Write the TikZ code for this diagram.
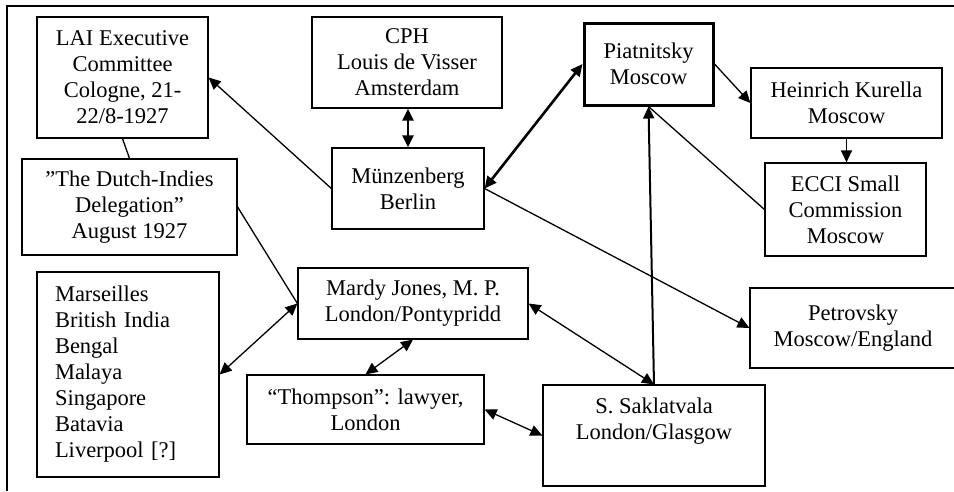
\documentclass[tikz,border=0pt]{standalone}
\usepackage{fontspec}
\setmainfont{Liberation Serif}
\usetikzlibrary{arrows.meta}
\begin{document}
\begin{tikzpicture}[x=1pt,y=-1pt,
  box/.style={draw,line width=1.2pt,align=center,inner sep=2pt,
    font=\fontsize{22.5}{26}\selectfont},
  thickbox/.style={box,line width=3pt},
  conn/.style={line width=1.3pt},
  tip/.style={-{Triangle[length=12pt,width=11pt]}},
  both/.style={{Triangle[length=12pt,width=11pt]}-{Triangle[length=12pt,width=11pt]}},
  heavy/.style={line width=2.6pt},
  medium/.style={line width=2pt}]
\useasboundingbox (0,0) rectangle (954,491);
% frame
\draw[line width=2pt] (7,491) -- (7,6) -- (954,6);
% nodes
\node[box,minimum width=171pt,minimum height=121pt] (lai) at (122.5,77.5)
  {LAI Executive\\Committee\\Cologne, 21-\\22/8-1927};
\node[box,minimum width=215pt,minimum height=96pt] (dutch) at (129.5,207)
  {”The Dutch-Indies\\Delegation”\\August 1927};
\node[box,minimum width=182pt,minimum height=205pt,align=left,text width=146pt,inner xsep=18pt] (mars) at (128,374.5)
  {Marseilles\\British India\\Bengal\\Malaya\\Singapore\\Batavia\\Liverpool [?]};
\node[box,minimum width=190pt,minimum height=91pt] (cph) at (407,62.5)
  {CPH\\Louis de Visser\\Amsterdam};
\node[box,minimum width=152pt,minimum height=81pt] (munz) at (408,188.5)
  {Münzenberg\\Berlin};
\node[thickbox,minimum width=129pt,minimum height=82pt] (piat) at (648.5,64)
  {Piatnitsky\\Moscow};
\node[box,minimum width=191pt,minimum height=70pt] (kur) at (846.5,103)
  {Heinrich Kurella\\Moscow};
\node[box,minimum width=161pt,minimum height=93pt] (ecci) at (845.5,209.5)
  {ECCI Small\\Commission\\Moscow};
\node[box,minimum width=206pt,minimum height=80pt] (petro) at (853,328)
  {Petrovsky\\Moscow/England};
\node[box,minimum width=230pt,minimum height=71pt] (mardy) at (413,303.5)
  {Mardy Jones, M. P.\\London/Pontypridd};
\node[box,minimum width=237pt,minimum height=69pt] (thomp) at (365.5,409.5)
  {“Thompson”: lawyer,\\London};
\node[box,minimum width=222pt,minimum height=101pt] (sakl) at (654,435.5)
  {S. Saklatvala\\London/Glasgow\\\strut};
% connectors
\draw[conn] (lai.south) -- (dutch.north);
\draw[conn,tip] (munz.west) -- (lai.east);
\draw[heavy,both] (cph.south -| munz.north) -- (munz.north);
\draw[heavy,both] (munz.east) -- (piat.west);
\draw[conn,tip] (munz.east) -- (petro.west);
\draw[conn,tip] (piat.east) -- (kur.west);
\draw[conn,tip] (kur.south) -- (kur.south |- ecci.north);
\draw[conn] (ecci.west) -- (piat.south);
\draw[medium,tip] (sakl.north) -- (piat.south);
\draw[conn] (dutch.east) -- (mardy.west);
\draw[conn,both] (mardy.west) -- (mars.east);
\draw[conn,both] (mardy.south) -- (thomp.north);
\draw[conn,both] (mardy.east) -- (sakl.north);
\draw[conn,both] (thomp.east) -- (sakl.west);
\end{tikzpicture}
\end{document}
